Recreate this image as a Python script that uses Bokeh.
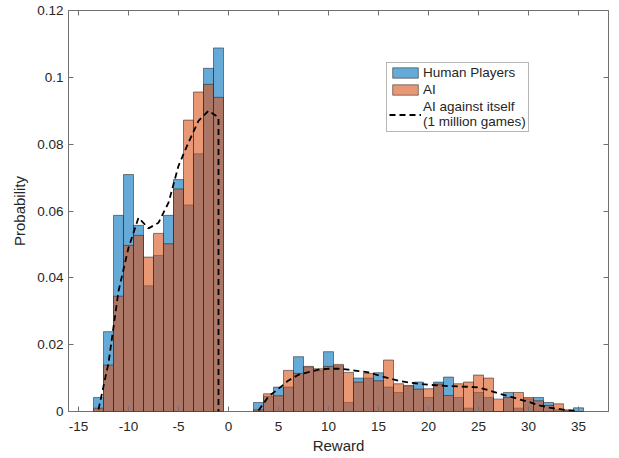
from bokeh.plotting import figure
from bokeh.models import Range1d, LinearAxis, FixedTicker, Legend, LegendItem
from bokeh.embed import file_html
from bokeh.resources import INLINE

# ---- data ----
left_bins = [-13, -12, -11, -10, -9, -8, -7, -6, -5, -4, -3, -2, -1]
human_left = [0.0042, 0.0239, 0.0587, 0.0709, 0.0557, 0.0376, 0.0467, 0.0587, 0.0694, 0.0618, 0.0771, 0.1027, 0.1088]
ai_left = [0.0010, 0.0139, 0.0345, 0.0497, 0.0527, 0.0462, 0.0533, 0.0502, 0.0666, 0.0872, 0.0956, 0.0979, 0.0940]

right_bins = list(range(3, 36))
human_right = [0.0027, 0.0045, 0.0073, 0.0073, 0.0164, 0.0133, 0.0122, 0.0179, 0.0137, 0.0027,
               0.0100, 0.0100, 0.0116, 0.0073, 0.0057, 0.0076, 0.0088, 0.0042, 0.0088, 0.0103,
               0.0042, 0.0010, 0.0057, 0.0042, 0.0000, 0.0057, 0.0010, 0.0038, 0.0042, 0.0027,
               0.0005, 0.0003, 0.0011]
ai_right = [0.0005, 0.0053, 0.0047, 0.0123, 0.0114, 0.0135, 0.0128, 0.0135, 0.0141, 0.0117,
            0.0088, 0.0114, 0.0092, 0.0154, 0.0083, 0.0078, 0.0067, 0.0068, 0.0082, 0.0048,
            0.0083, 0.0088, 0.0109, 0.0100, 0.0037, 0.0042, 0.0057, 0.0042, 0.0032, 0.0018,
            0.0023, 0.0005, 0.0000]

self_left_x = [-13, -12, -11, -10, -9, -8, -7, -6, -5, -4, -3, -2, -1, -1]
self_left_y = [0.0006, 0.0145, 0.0360, 0.0490, 0.0580, 0.0548, 0.0565, 0.0625, 0.0735, 0.0805, 0.0870, 0.0900, 0.0880, 0.0]
self_right_x = list(range(3, 36))
self_right_y = [0.0003, 0.0045, 0.0068, 0.0093, 0.0110, 0.0118, 0.0125, 0.0128, 0.0128, 0.0125,
                0.0121, 0.0117, 0.0108, 0.0100, 0.0092, 0.0087, 0.0083, 0.0080, 0.0078, 0.0076,
                0.0075, 0.0074, 0.0072, 0.0064, 0.0054, 0.0046, 0.0037, 0.0029, 0.0019, 0.0012,
                0.0008, 0.0003, 0.0001]

x_ticks = [-15, -10, -5, 0, 5, 10, 15, 20, 25, 30, 35]
x_tick_labels = ["-15", "-10", "-5", "0", "5", "10", "15", "20", "25", "30", "35"]
y_ticks = [0, 0.02, 0.04, 0.06, 0.08, 0.1, 0.12]
y_tick_labels = ["0", "0.02", "0.04", "0.06", "0.08", "0.1", "0.12"]

BIN_W = 1.0
FONT = "Liberation Sans"
AX = "#707070"
TXT = "#262626"
BLUE = "#0072BD"
ORANGE = "#D95319"

p = figure(width=619, height=458, output_backend="svg", toolbar_location=None,
           x_range=Range1d(-16, 38), y_range=Range1d(0, 0.12),
           min_border_left=68, min_border_right=11, min_border_top=10, min_border_bottom=47)
p.grid.visible = False
p.background_fill_color = "white"
p.border_fill_color = "white"
p.outline_line_color = AX
p.outline_line_width = 1

bins = left_bins + right_bins
human = human_left + human_right
ai = ai_left + ai_right
lefts = [b - BIN_W / 2 for b in bins]
rights = [b + BIN_W / 2 for b in bins]

r_h = p.quad(left=lefts, right=rights, bottom=0, top=human, fill_color=BLUE, fill_alpha=0.6,
             line_color="#262626", line_alpha=0.8, line_width=0.7)
r_a = p.quad(left=lefts, right=rights, bottom=0, top=ai, fill_color=ORANGE, fill_alpha=0.6,
             line_color="#262626", line_alpha=0.8, line_width=0.7)
r_s1 = p.line(self_left_x, self_left_y, line_color="black", line_width=1.8, line_dash="6 4")
r_s2 = p.line(self_right_x, self_right_y, line_color="black", line_width=1.8, line_dash="6 4")

def style_axis(ax, show_labels):
    ax.axis_line_color = None
    ax.major_tick_line_color = AX
    ax.major_tick_in = 5
    ax.major_tick_out = 0
    ax.minor_tick_line_color = None
    ax.major_label_text_font = FONT
    ax.major_label_text_color = TXT
    ax.major_label_text_font_size = "13.5px"
    if not show_labels:
        ax.major_label_text_font_size = "1px"
        ax.major_label_text_color = None
        ax.major_label_standoff = 0

xa = p.xaxis[0]
xa.ticker = FixedTicker(ticks=x_ticks)
xa.major_label_overrides = {t: l for t, l in zip(x_ticks, x_tick_labels)}
style_axis(xa, True)
xa.major_label_standoff = 10
xa.axis_label = "Reward"
xa.axis_label_text_font = FONT
xa.axis_label_text_font_size = "15px"
xa.axis_label_text_font_style = "normal"
xa.axis_label_text_color = TXT
xa.axis_label_standoff = 3

ya = p.yaxis[0]
ya.ticker = FixedTicker(ticks=y_ticks)
ya.major_label_overrides = {t: l for t, l in zip(y_ticks, y_tick_labels)}
style_axis(ya, True)
ya.major_label_standoff = 5
ya.axis_label = "Probability"
ya.axis_label_text_font = FONT
ya.axis_label_text_font_size = "15px"
ya.axis_label_text_font_style = "normal"
ya.axis_label_text_color = TXT
ya.axis_label_standoff = 6

top_ax = LinearAxis(ticker=FixedTicker(ticks=x_ticks))
style_axis(top_ax, False)
p.add_layout(top_ax, "above")
right_ax = LinearAxis(ticker=FixedTicker(ticks=y_ticks))
style_axis(right_ax, False)
p.add_layout(right_ax, "right")

legend = Legend(items=[
    LegendItem(label="Human Players", renderers=[r_h]),
    LegendItem(label="AI", renderers=[r_a]),
    LegendItem(label="AI against itself\n(1 million games)", renderers=[r_s1]),
], location=(318, 279))
legend.label_text_font = FONT
legend.label_text_font_size = "13.5px"
legend.label_text_color = TXT
legend.label_standoff = 2
legend.glyph_width = 32
legend.glyph_height = 13
legend.label_height = 14
legend.spacing = 2
legend.padding = 2
legend.margin = 0
legend.border_line_color = AX
legend.border_line_width = 1
legend.background_fill_alpha = 1
p.add_layout(legend, "center")

open("out.html", "w").write(file_html(p, INLINE))
